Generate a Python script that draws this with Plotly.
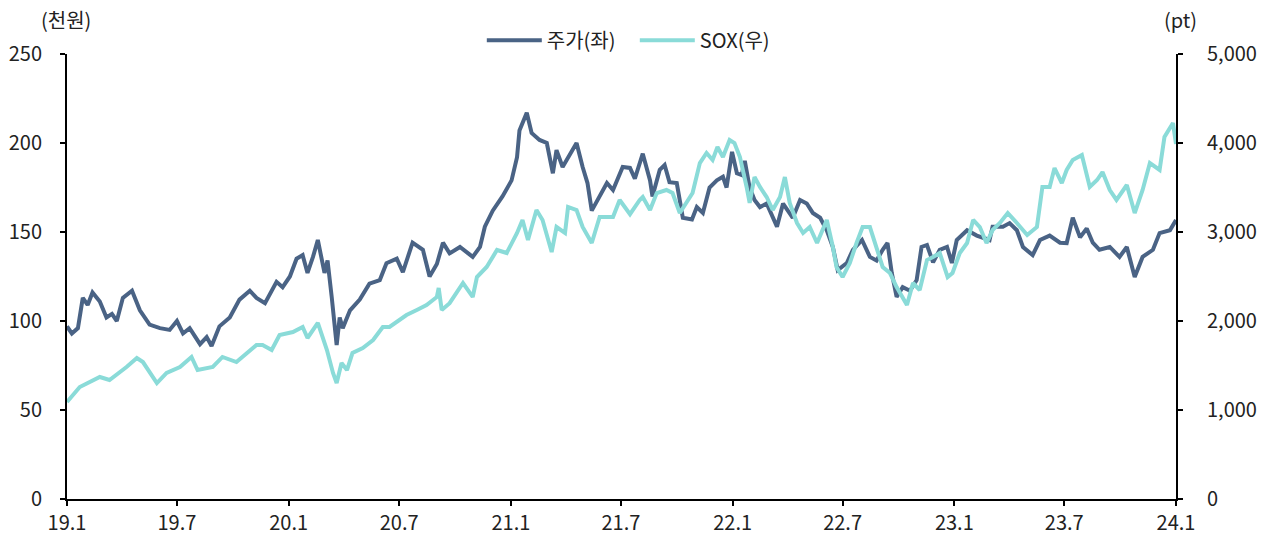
import plotly.graph_objects as go

# ---- data ----
stock_dates = ["2019-01-01","2019-01-09","2019-01-19","2019-01-27","2019-02-04","2019-02-12","2019-02-24","2019-03-07","2019-03-16","2019-03-24",
 "2019-04-03","2019-04-18","2019-05-01","2019-05-17","2019-06-03","2019-06-19","2019-07-01","2019-07-11","2019-07-22","2019-08-08",
 "2019-08-19","2019-08-27","2019-09-09","2019-09-26","2019-10-12","2019-10-29","2019-11-09","2019-11-23","2019-12-12","2019-12-22",
 "2020-01-03","2020-01-14","2020-01-24","2020-02-01","2020-02-10","2020-02-18","2020-02-29","2020-03-05","2020-03-12","2020-03-20",
 "2020-03-25","2020-03-30","2020-04-11","2020-04-27","2020-05-13","2020-05-30","2020-06-10","2020-06-27","2020-07-07","2020-07-23",
 "2020-08-09","2020-08-20","2020-09-01","2020-09-11","2020-09-22","2020-10-09","2020-10-30","2020-11-11","2020-11-19","2020-12-02",
 "2020-12-18","2021-01-02","2021-01-11","2021-01-15","2021-01-27","2021-02-04","2021-02-17","2021-03-01","2021-03-11","2021-03-17",
 "2021-03-27","2021-04-08","2021-04-19","2021-04-29","2021-05-07","2021-05-14","2021-05-24","2021-06-08","2021-06-18","2021-07-04",
 "2021-07-16","2021-07-24","2021-08-06","2021-08-18","2021-08-22","2021-09-03","2021-09-11","2021-09-19","2021-10-01","2021-10-11",
 "2021-10-26","2021-11-03","2021-11-13","2021-11-24","2021-12-06","2021-12-16","2021-12-22","2021-12-31","2022-01-08","2022-01-16",
 "2022-01-21","2022-01-29","2022-02-06","2022-02-15","2022-02-26","2022-03-15","2022-03-25","2022-04-10","2022-04-22","2022-05-03",
 "2022-05-13","2022-05-25","2022-06-05","2022-06-15","2022-06-23","2022-07-08","2022-07-18","2022-08-02","2022-08-15","2022-08-26",
 "2022-09-05","2022-09-13","2022-09-20","2022-09-28","2022-10-08","2022-10-20","2022-10-31","2022-11-08","2022-11-17","2022-11-27",
 "2022-12-08","2022-12-20","2022-12-28","2023-01-05","2023-01-22","2023-02-07","2023-02-28","2023-03-05","2023-03-22","2023-04-02",
 "2023-04-14","2023-04-24","2023-05-10","2023-05-22","2023-06-07","2023-06-24","2023-07-05","2023-07-15","2023-07-27","2023-08-07",
 "2023-08-17","2023-08-28","2023-09-14","2023-09-30","2023-10-12","2023-10-25","2023-11-07","2023-11-24","2023-12-05","2023-12-22",
 "2024-01-01"]
stock_values = [97,93,96,113,109,116,111,102,104,100,
 113,117,106,98,96,95,100,93,96,87,
 91,86,97,102,112,117,113,110,122,119,
 125,135,137,127,136,145.5,127,134,113,86.5,
 102,96,106,112,121,123,132.5,135,127.5,144,
 140,125,132,144,138,141.6,136,141.6,153,162,
 170,179,192,207,217,205.6,201.7,200,183,196,
 186.5,194,200,186.5,177.5,162,168,177.5,173.6,186.5,
 186,180,194,179,170,185,187.6,178,177.5,158,
 157,164,160.7,175,179,181,175,195,183,182,
 190,175,168,164,166,153,166,158,168,166,
 160.7,158,151,141.6,128.6,132.6,140,145.5,136,134,
 140,143.8,127,113.5,119,117,123,141.6,142.7,133,
 140,141.6,132.6,145.5,151,148,145.5,153,153,155,
 151,141.6,137,145.5,148,144,143.8,158,147,152,
 144,140,141.6,136,141.6,124.7,136,140,149.4,151,
 156.7]

sox_dates = ["2019-01-01","2019-01-22","2019-02-24","2019-03-12","2019-04-09","2019-04-26","2019-05-06","2019-05-29","2019-06-14","2019-07-06",
 "2019-07-25","2019-08-04","2019-08-29","2019-09-14","2019-10-07","2019-10-24","2019-11-09","2019-11-19","2019-12-04","2019-12-17",
 "2020-01-08","2020-01-24","2020-02-01","2020-02-18","2020-03-04","2020-03-14","2020-03-20","2020-03-28","2020-04-06","2020-04-15",
 "2020-05-02","2020-05-19","2020-06-04","2020-06-15","2020-06-27","2020-07-13","2020-07-30","2020-08-15","2020-09-01","2020-09-04",
 "2020-09-09","2020-09-22","2020-10-14","2020-10-30","2020-11-06","2020-11-22","2020-12-09","2020-12-25","2021-01-11","2021-01-20",
 "2021-01-29","2021-02-12","2021-02-22","2021-03-09","2021-03-17","2021-03-31","2021-04-05","2021-04-19","2021-04-29","2021-05-14",
 "2021-05-27","2021-06-18","2021-06-29","2021-07-16","2021-08-01","2021-08-06","2021-08-18","2021-08-29","2021-09-14","2021-09-24",
 "2021-10-06","2021-10-17","2021-10-27","2021-11-08","2021-11-19","2021-11-29","2021-12-07","2021-12-16","2021-12-27","2022-01-04",
 "2022-01-13","2022-01-24","2022-01-29","2022-02-06","2022-02-15","2022-02-26","2022-03-08","2022-03-20","2022-03-28","2022-04-05",
 "2022-04-17","2022-04-27","2022-05-08","2022-05-20","2022-05-30","2022-06-05","2022-06-15","2022-06-21","2022-07-01","2022-07-13",
 "2022-07-24","2022-08-03","2022-08-15","2022-08-26","2022-09-05","2022-09-17","2022-09-28","2022-10-15","2022-10-25","2022-11-05",
 "2022-11-17","2022-11-27","2022-12-08","2022-12-21","2022-12-29","2023-01-10","2023-01-22","2023-02-01","2023-02-12","2023-02-23",
 "2023-03-05","2023-03-17","2023-03-30","2023-04-14","2023-05-01","2023-05-17","2023-05-26","2023-06-07","2023-06-15","2023-06-27",
 "2023-07-05","2023-07-15","2023-07-30","2023-08-12","2023-08-24","2023-09-02","2023-09-14","2023-09-25","2023-10-12","2023-10-25",
 "2023-11-07","2023-11-19","2023-12-05","2023-12-13","2023-12-27","2024-01-01"]
sox_values = [1090,1258,1371,1337,1483,1584,1539,1303,1416,1483,
 1596,1449,1483,1596,1539,1640,1730,1730,1674,1843,
 1876,1933,1809,1978,1674,1416,1303,1528,1449,1640,
 1697,1786,1933,1933,1989,2067,2124,2180,2270,2371,
 2124,2200,2427,2270,2494,2607,2798,2764,2989,3135,
 2910,3247,3135,2775,3056,2989,3281,3247,3056,2876,
 3169,3169,3360,3200,3360,3393,3247,3438,3472,3438,
 3213,3326,3438,3775,3888,3809,3955,3843,4034,4000,
 3843,3506,3326,3618,3506,3393,3247,3393,3618,3326,
 3101,2989,3056,2876,3050,3135,2832,2607,2494,2652,
 2876,3056,3056,2832,2607,2539,2382,2180,2427,2348,
 2685,2719,2764,2494,2539,2764,2876,3135,3056,2876,
 3022,3101,3213,3101,2966,3056,3506,3506,3719,3550,
 3697,3809,3865,3506,3584,3674,3472,3360,3528,3213,
 3472,3775,3697,4067,4225,3990]

tick_dates = ["2019-01-01","2019-07-01","2020-01-01","2020-07-01","2021-01-01","2021-07-01",
              "2022-01-01","2022-07-01","2023-01-01","2023-07-01","2024-01-01"]
tick_labels = ["19.1","19.7","20.1","20.7","21.1","21.7","22.1","22.7","23.1","23.7","24.1"]

stock_name = "주가(좌)"
sox_name = "SOX(우)"
left_unit = "(천원)"
right_unit = "(pt)"

DARK = "#4a6385"
LIGHT = "#8adbd8"
FONT = "Noto Sans CJK KR"
FS = 20

fig = go.Figure()
fig.add_trace(go.Scatter(x=stock_dates, y=stock_values, name=stock_name, mode="lines",
                         line=dict(color=DARK, width=4), yaxis="y"))
fig.add_trace(go.Scatter(x=sox_dates, y=sox_values, name=sox_name, mode="lines",
                         line=dict(color=LIGHT, width=4), yaxis="y2"))

axis_common = dict(showgrid=False, zeroline=False, showline=True, linecolor="black", linewidth=2,
                   ticks="outside", ticklen=5, tickwidth=2, tickcolor="black",
                   tickfont=dict(size=FS), automargin=False)

fig.update_layout(
    width=1266, height=536,
    margin=dict(l=67, r=90, t=54, b=37, autoexpand=False),
    paper_bgcolor="white", plot_bgcolor="white",
    font=dict(family=FONT, size=FS, color="#222222"),
    showlegend=True,
    legend=dict(orientation="h", x=0.512, xanchor="center", y=1.031, yanchor="middle",
                font=dict(size=FS), itemwidth=55, entrywidth=83, entrywidthmode="pixels",
                bgcolor="rgba(0,0,0,0)", traceorder="normal", tracegroupgap=0),
    xaxis=dict(type="date", range=["2019-01-01", "2024-01-01"],
               tickvals=tick_dates, ticktext=tick_labels, **axis_common),
    yaxis=dict(range=[0, 250], dtick=50, ticklabelstandoff=14, **axis_common),
    yaxis2=dict(range=[0, 5000], dtick=1000, overlaying="y", side="right",
                tickformat=",", ticklabelstandoff=20, **axis_common),
    annotations=[
        dict(text=left_unit, xref="paper", yref="paper", x=-0.001, y=1.0, yshift=35,
             xanchor="center", yanchor="middle", showarrow=False, font=dict(size=FS)),
        dict(text=right_unit, xref="paper", yref="paper", x=1.004, y=1.0, yshift=35,
             xanchor="center", yanchor="middle", showarrow=False, font=dict(size=FS)),
    ],
)

fig.write_html("out.html", config={"displayModeBar": False},
               post_script="document.body.style.margin='0';document.body.style.overflow='hidden';")
